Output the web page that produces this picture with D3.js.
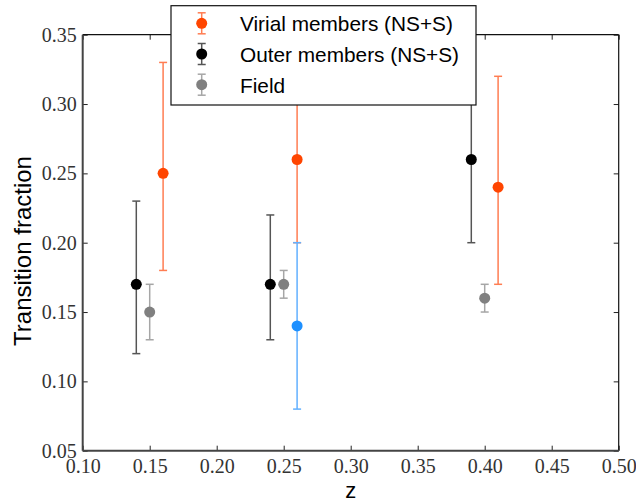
<!DOCTYPE html>
<html>
<head>
<meta charset="utf-8">
<script src="https://cdn.jsdelivr.net/npm/d3@7"></script>
<style>
  html, body { margin: 0; padding: 0; background: #fff; }
  svg { display: block; }
</style>
</head>
<body>
<svg id="chart" width="636" height="504"></svg>
<script>
// Transition fraction versus redshift
const virialZ  = [0.16, 0.26, 0.41];
const virialF  = [0.25, 0.26, 0.24];
const virialLo = [0.18, 0.20, 0.17];
const virialHi = [0.33, 0.32, 0.32];

const outerZ  = [0.14, 0.24, 0.39];
const outerF  = [0.17, 0.17, 0.26];
const outerLo = [0.12, 0.13, 0.20];
const outerHi = [0.23, 0.22, 0.32];

const fieldZ  = [0.15, 0.25, 0.40];
const fieldF  = [0.15, 0.17, 0.16];
const fieldLo = [0.13, 0.16, 0.15];
const fieldHi = [0.17, 0.18, 0.17];

const extraZ  = [0.26];
const extraF  = [0.14];
const extraLo = [0.08];
const extraHi = [0.20];

const xTicks = [0.10, 0.15, 0.20, 0.25, 0.30, 0.35, 0.40, 0.45, 0.50];
const yTicks = [0.05, 0.10, 0.15, 0.20, 0.25, 0.30, 0.35];

const legendLabels = ["Virial members (NS+S)", "Outer members (NS+S)", "Field"];

const svg = d3.select("#chart");
const plotL = 82.7, plotR = 618.7, plotT = 34.7, plotB = 450.7;

const x = d3.scaleLinear().domain([0.10, 0.50]).range([plotL, plotR]);
const y = d3.scaleLinear().domain([0.05, 0.35]).range([plotB, plotT]);

const tickFont = "'Liberation Serif', 'DejaVu Serif', serif";
const sansFont = "'Liberation Sans', Arial, sans-serif";

// axes with inward ticks on all four sides
function styleAxis(g) {
  g.select(".domain").remove();
  g.selectAll(".tick line").attr("stroke", "#222").attr("stroke-width", 1);
  g.selectAll(".tick text").attr("fill", "#333")
    .style("font-family", tickFont).style("font-size", "20px");
}
svg.append("g").attr("transform", `translate(0,${plotB})`)
  .call(d3.axisBottom(x).tickValues(xTicks).tickFormat(d3.format(".2f"))
    .tickSizeInner(-5).tickSizeOuter(0).tickPadding(8))
  .call(styleAxis);
svg.append("g").attr("transform", `translate(0,${plotT})`)
  .call(d3.axisTop(x).tickValues(xTicks).tickFormat("")
    .tickSizeInner(-5).tickSizeOuter(0))
  .call(styleAxis);
svg.append("g").attr("transform", `translate(${plotL},0)`)
  .call(d3.axisLeft(y).tickValues(yTicks).tickFormat(d3.format(".2f"))
    .tickSizeInner(-5).tickSizeOuter(0).tickPadding(6))
  .call(styleAxis);
svg.append("g").attr("transform", `translate(${plotR},0)`)
  .call(d3.axisRight(y).tickValues(yTicks).tickFormat("")
    .tickSizeInner(-5).tickSizeOuter(0))
  .call(styleAxis);

// frame
svg.append("line").attr("x1", plotL).attr("x2", plotR).attr("y1", plotT).attr("y2", plotT)
  .attr("stroke", "#111").attr("stroke-width", 1.2);
svg.append("line").attr("x1", plotR).attr("x2", plotR).attr("y1", plotT).attr("y2", plotB)
  .attr("stroke", "#111").attr("stroke-width", 1.2);
svg.append("line").attr("x1", plotL).attr("x2", plotR).attr("y1", plotB).attr("y2", plotB)
  .attr("stroke", "#444").attr("stroke-width", 2);
svg.append("line").attr("x1", plotL).attr("x2", plotL).attr("y1", plotT).attr("y2", plotB)
  .attr("stroke", "#444").attr("stroke-width", 2);

// error-bar series
function series(zs, fs, lo, hi, color, barColor) {
  const g = svg.append("g");
  const d = zs.map((z, i) => ({ z, f: fs[i], lo: lo[i], hi: hi[i] }));
  const capW = 4;
  d.forEach(p => {
    const cx = x(p.z);
    g.append("line").attr("x1", cx).attr("x2", cx).attr("y1", y(p.lo)).attr("y2", y(p.hi))
      .attr("stroke", barColor).attr("stroke-width", 1.5);
    [p.lo, p.hi].forEach(v => {
      g.append("line").attr("x1", cx - capW).attr("x2", cx + capW).attr("y1", y(v)).attr("y2", y(v))
        .attr("stroke", barColor).attr("stroke-width", 1.5);
    });
    g.append("circle").attr("cx", cx).attr("cy", y(p.f)).attr("r", 5.5).attr("fill", color);
  });
}

const colors = {
  virial: ["#ff4500", "#ff7d52"],
  outer:  ["#000000", "#555555"],
  field:  ["#808080", "#a6a6a6"],
  extra:  ["#1e90ff", "#62b0ff"]
};

series(outerZ, outerF, outerLo, outerHi, ...colors.outer);
series(fieldZ, fieldF, fieldLo, fieldHi, ...colors.field);
series(virialZ, virialF, virialLo, virialHi, ...colors.virial);
series(extraZ, extraF, extraLo, extraHi, ...colors.extra);

// legend
const leg = svg.append("g");
leg.append("rect").attr("x", 171).attr("y", 5.7).attr("width", 305).attr("height", 99.3)
  .attr("fill", "#fff").attr("stroke", "#111").attr("stroke-width", 1.2);
const legColors = [colors.virial, colors.outer, colors.field];
legendLabels.forEach((lab, i) => {
  const cy = 23.3 + i * 30.7, cx = 201.7;
  const [c, bc] = legColors[i];
  leg.append("line").attr("x1", cx).attr("x2", cx).attr("y1", cy - 10.5).attr("y2", cy + 10.5)
    .attr("stroke", bc).attr("stroke-width", 1.5);
  [cy - 10.5, cy + 10.5].forEach(v => leg.append("line")
    .attr("x1", cx - 4).attr("x2", cx + 4).attr("y1", v).attr("y2", v)
    .attr("stroke", bc).attr("stroke-width", 1.5));
  leg.append("circle").attr("cx", cx).attr("cy", cy).attr("r", 5.5).attr("fill", c);
  leg.append("text").attr("x", 240).attr("y", cy + 8)
    .style("font-family", sansFont).style("font-size", "20.8px").attr("fill", "#000")
    .text(lab);
});

// axis titles
svg.append("text").attr("x", (plotL + plotR) / 2).attr("y", 498)
  .attr("text-anchor", "middle")
  .style("font-family", sansFont).style("font-size", "22px").text("z");
svg.append("text")
  .attr("transform", `translate(31,251) rotate(-90)`)
  .attr("text-anchor", "middle")
  .style("font-family", sansFont).style("font-size", "24px").text("Transition fraction");
</script>
</body>
</html>
